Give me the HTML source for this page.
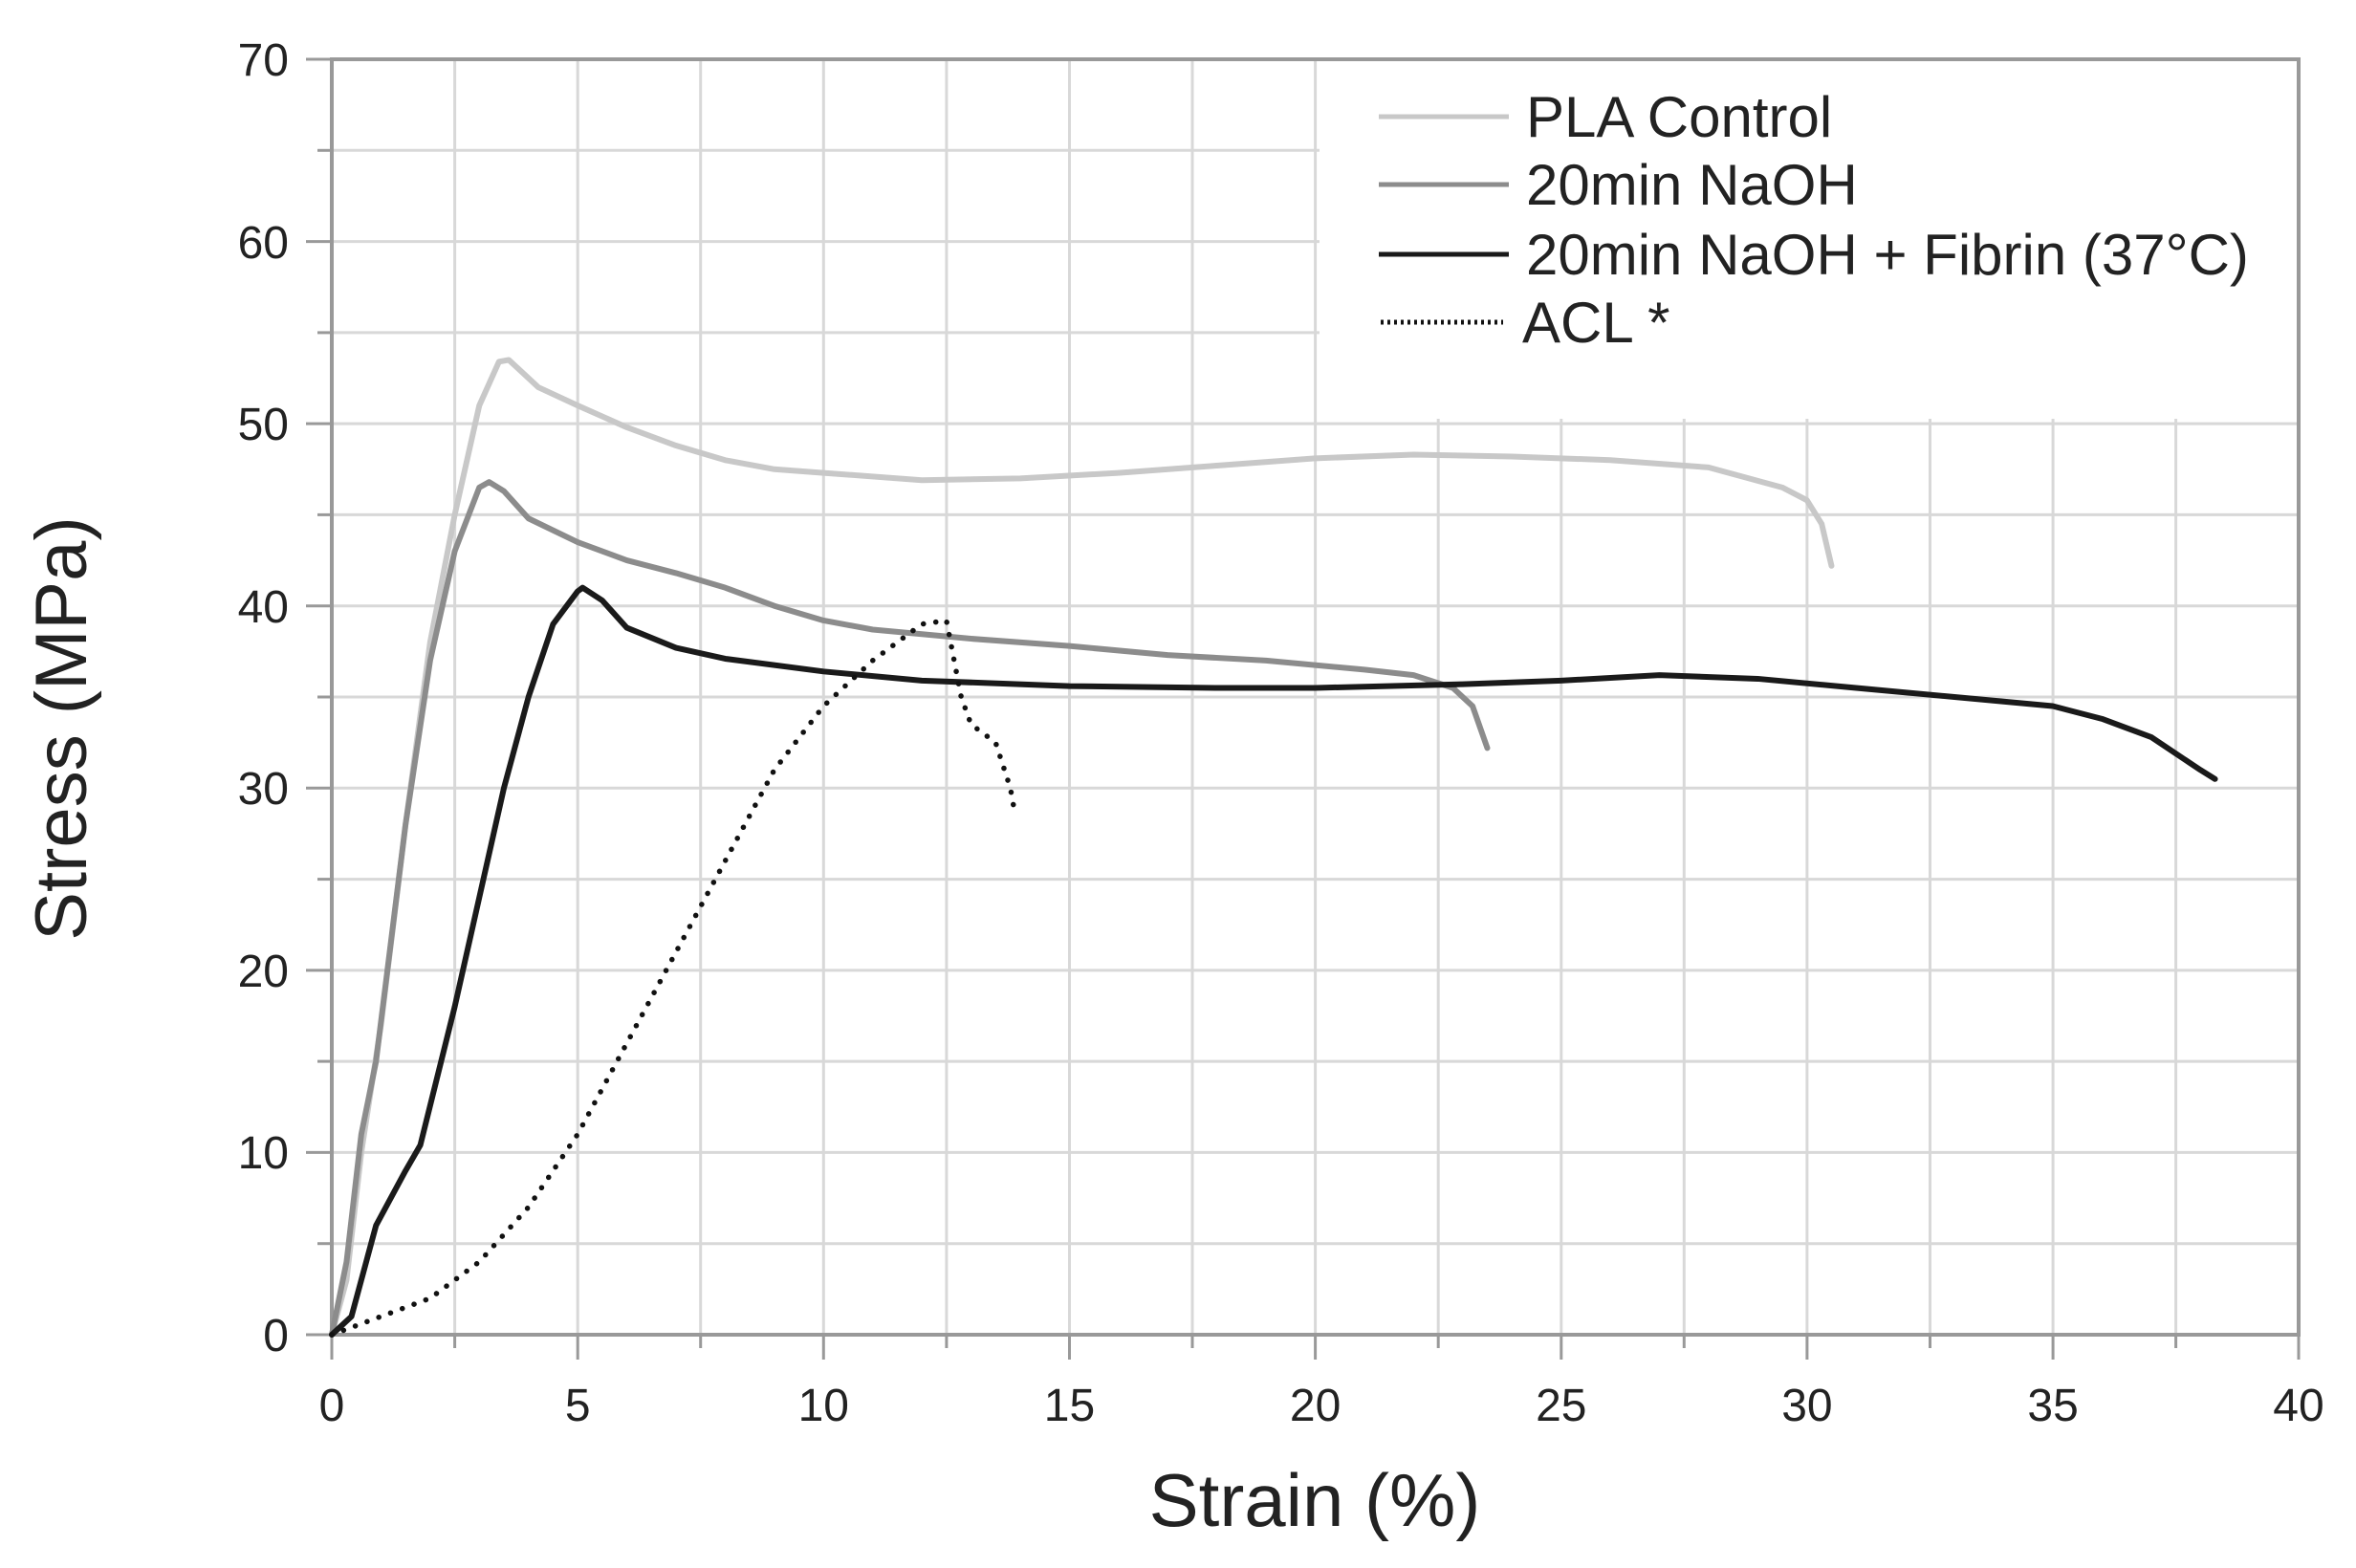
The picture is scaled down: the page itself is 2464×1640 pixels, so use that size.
<!DOCTYPE html>
<html><head><meta charset="utf-8"><style>
html,body{margin:0;padding:0;background:#fff;}
svg{display:block;}
text{font-family:"Liberation Sans",Arial,sans-serif;fill:#222;}
</style></head><body>
<svg width="2464" height="1640" viewBox="0 0 2464 1640" xmlns="http://www.w3.org/2000/svg">
<rect width="2464" height="1640" fill="#fff"/>
<g stroke="#d8d8d8" stroke-width="3">
<line x1="475.6" y1="62" x2="475.6" y2="1396"/><line x1="604.2" y1="62" x2="604.2" y2="1396"/><line x1="732.7" y1="62" x2="732.7" y2="1396"/><line x1="861.3" y1="62" x2="861.3" y2="1396"/><line x1="989.9" y1="62" x2="989.9" y2="1396"/><line x1="1118.5" y1="62" x2="1118.5" y2="1396"/><line x1="1247.0" y1="62" x2="1247.0" y2="1396"/><line x1="1375.6" y1="62" x2="1375.6" y2="1396"/><line x1="1504.2" y1="62" x2="1504.2" y2="1396"/><line x1="1632.8" y1="62" x2="1632.8" y2="1396"/><line x1="1761.3" y1="62" x2="1761.3" y2="1396"/><line x1="1889.9" y1="62" x2="1889.9" y2="1396"/><line x1="2018.5" y1="62" x2="2018.5" y2="1396"/><line x1="2147.1" y1="62" x2="2147.1" y2="1396"/><line x1="2275.6" y1="62" x2="2275.6" y2="1396"/>
<line x1="347" y1="1300.7" x2="2404" y2="1300.7"/><line x1="347" y1="1205.4" x2="2404" y2="1205.4"/><line x1="347" y1="1110.1" x2="2404" y2="1110.1"/><line x1="347" y1="1014.9" x2="2404" y2="1014.9"/><line x1="347" y1="919.6" x2="2404" y2="919.6"/><line x1="347" y1="824.3" x2="2404" y2="824.3"/><line x1="347" y1="729.0" x2="2404" y2="729.0"/><line x1="347" y1="633.7" x2="2404" y2="633.7"/><line x1="347" y1="538.4" x2="2404" y2="538.4"/><line x1="347" y1="443.1" x2="2404" y2="443.1"/><line x1="347" y1="347.9" x2="2404" y2="347.9"/><line x1="347" y1="252.6" x2="2404" y2="252.6"/><line x1="347" y1="157.3" x2="2404" y2="157.3"/>
</g>
<rect x="1380" y="64" width="1022" height="374" fill="#fff"/>
<rect x="347" y="62" width="2057" height="1334" fill="none" stroke="#999" stroke-width="4"/>
<g stroke="#999" stroke-width="3">
<line x1="320" y1="62" x2="347" y2="62"/><line x1="320" y1="252.6" x2="347" y2="252.6"/><line x1="320" y1="443.1" x2="347" y2="443.1"/><line x1="320" y1="633.7" x2="347" y2="633.7"/><line x1="320" y1="824.3" x2="347" y2="824.3"/><line x1="320" y1="1014.9" x2="347" y2="1014.9"/><line x1="320" y1="1205.4" x2="347" y2="1205.4"/><line x1="320" y1="1396" x2="347" y2="1396"/>
<line x1="332" y1="157.3" x2="347" y2="157.3"/><line x1="332" y1="347.9" x2="347" y2="347.9"/><line x1="332" y1="538.4" x2="347" y2="538.4"/><line x1="332" y1="729" x2="347" y2="729"/><line x1="332" y1="919.6" x2="347" y2="919.6"/><line x1="332" y1="1110.1" x2="347" y2="1110.1"/><line x1="332" y1="1300.7" x2="347" y2="1300.7"/>
<line x1="347" y1="1396" x2="347" y2="1422"/><line x1="604.2" y1="1396" x2="604.2" y2="1422"/><line x1="861.3" y1="1396" x2="861.3" y2="1422"/><line x1="1118.5" y1="1396" x2="1118.5" y2="1422"/><line x1="1375.6" y1="1396" x2="1375.6" y2="1422"/><line x1="1632.8" y1="1396" x2="1632.8" y2="1422"/><line x1="1889.9" y1="1396" x2="1889.9" y2="1422"/><line x1="2147.1" y1="1396" x2="2147.1" y2="1422"/><line x1="2404" y1="1396" x2="2404" y2="1422"/>
<line x1="475.6" y1="1396" x2="475.6" y2="1410"/><line x1="732.7" y1="1396" x2="732.7" y2="1410"/><line x1="989.9" y1="1396" x2="989.9" y2="1410"/><line x1="1247" y1="1396" x2="1247" y2="1410"/><line x1="1504.2" y1="1396" x2="1504.2" y2="1410"/><line x1="1761.3" y1="1396" x2="1761.3" y2="1410"/><line x1="2018.5" y1="1396" x2="2018.5" y2="1410"/><line x1="2275.6" y1="1396" x2="2275.6" y2="1410"/>
</g>
<g font-size="48" text-anchor="end">
<text x="302" y="79">70</text><text x="302" y="270">60</text><text x="302" y="460">50</text><text x="302" y="651">40</text><text x="302" y="841">30</text><text x="302" y="1032">20</text><text x="302" y="1222">10</text><text x="302" y="1413">0</text>
</g>
<g font-size="48" text-anchor="middle">
<text x="347" y="1486">0</text><text x="604.2" y="1486">5</text><text x="861.3" y="1486">10</text><text x="1118.5" y="1486">15</text><text x="1375.6" y="1486">20</text><text x="1632.8" y="1486">25</text><text x="1889.9" y="1486">30</text><text x="2147.1" y="1486">35</text><text x="2404" y="1486">40</text>
</g>
<text x="1375" y="1596" font-size="78" text-anchor="middle">Strain (%)</text>
<text transform="translate(90,762) rotate(-90)" font-size="76" text-anchor="middle">Stress (MPa)</text>
<g transform="translate(347,1396) scale(51.425,-19.057)" fill="none" stroke-linejoin="round" stroke-linecap="round">
<polyline vector-effect="non-scaling-stroke" stroke="#c8c8c8" stroke-width="6" points="0,0 0.3,3 0.6,10 1,17 1.5,28 2,38 2.5,45 3,51 3.4,53.4 3.6,53.5 3.8,53 4.2,52 5,51 6,49.8 7,48.8 8,48 9,47.5 10,47.3 12,46.9 14,47 16,47.3 18,47.7 20,48.1 22,48.3 24,48.2 26,48 28,47.6 29.5,46.5 30,45.8 30.3,44.5 30.5,42.2"/>
<polyline vector-effect="non-scaling-stroke" stroke="#8c8c8c" stroke-width="6" points="0,0 0.3,4 0.6,11 0.9,15 1.5,28 2,37 2.5,43 3,46.5 3.2,46.8 3.5,46.3 4,44.8 5,43.5 6,42.5 7,41.8 8,41 9,40 10,39.2 11,38.7 13,38.2 15,37.8 17,37.3 19,37 21,36.5 22,36.2 22.8,35.5 23.2,34.5 23.5,32.2"/>
<polyline vector-effect="non-scaling-stroke" stroke="#1a1a1a" stroke-width="6" points="0,0 0.4,1 0.9,6 1.5,9 1.8,10.4 2.5,18 3,24 3.5,30 4,35 4.5,39 5,40.8 5.1,41 5.5,40.3 6,38.8 7,37.7 8,37.1 10,36.4 12,35.9 15,35.6 18,35.5 20,35.5 23,35.7 25,35.9 27,36.2 29,36 31,35.5 33,35 35,34.5 36,33.8 37,32.8 38,31 38.3,30.5"/>
<polyline vector-effect="non-scaling-stroke" stroke="#111" stroke-width="5.5" stroke-dasharray="0.1 13" points="0,0 1,1 2,2 3,4 4,7 5,11 6,16 7,21 8,26 9,31 10,34.5 11,37 12,39 12.5,39.2 12.8,35 13,33.5 13.5,32.5 13.8,30 13.9,28.5"/>
</g>
<g stroke-width="5">
<line x1="1442" y1="122" x2="1578" y2="122" stroke="#c8c8c8"/>
<line x1="1442" y1="193" x2="1578" y2="193" stroke="#8c8c8c"/>
<line x1="1442" y1="266" x2="1578" y2="266" stroke="#1a1a1a"/>
<line x1="1444" y1="337" x2="1572" y2="337" stroke="#111" stroke-dasharray="3 4"/>
</g>
<g font-size="60">
<text x="1596" y="143">PLA Control</text>
<text x="1596" y="214">20min NaOH</text>
<text x="1596" y="287">20min NaOH + Fibrin (37°C)</text>
<text x="1592" y="358">ACL *</text>
</g>
</svg>
</body></html>
